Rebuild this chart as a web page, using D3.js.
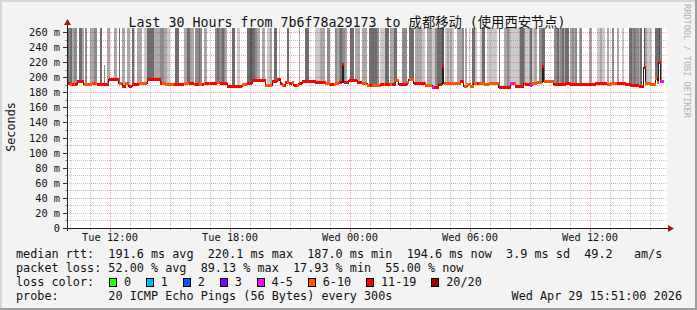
<!DOCTYPE html>
<html><head><meta charset="utf-8">
<script src="https://cdn.jsdelivr.net/npm/d3@7/dist/d3.min.js"></script>
<style>
html,body{margin:0;padding:0;background:#f3f3f3;overflow:hidden}
svg{display:block}
text{font-family:"DejaVu Sans Mono","Noto Sans CJK SC",monospace;white-space:pre}
</style></head><body>
<svg id="chart" width="697" height="310"></svg>
<script>
// ---- data: one value per 5-minute step, Tue 09:51 -> Wed 15:51 ----
const medianRtt=[
193,193,190.5,190.5,190.5,190.5,195.5,195.5,195.5,195.5,190.5,190.5,190.5,190.5,190.5,192,192,192,190.5,190.5,
190.5,190.5,190.5,190.5,190.5,197,197,197,197,197,197,193,193,189,189,193,193,189,189,190.5,
190.5,190.5,190.5,192,192,192,192,192,198,198,198,198,198,198,198,198,193,193,193,190.5,
190.5,190.5,190.5,190.5,190.5,190.5,190.5,190.5,190.5,190.5,193,193,193,192,192,192,190.5,190.5,190.5,190.5,
190.5,190.5,193,193,193,193,192,192,192,192,194,194,192,192,192,192,188.5,188.5,188.5,188.5,
188.5,188.5,188.5,188.5,188.5,191.5,191.5,191.5,193,193,193,196,196,196,196,196,196,196,196,190.3,
190.3,190.3,190.3,195.4,195.4,195.4,198,198,193,190.3,190.3,193.6,193.6,191.8,191.8,193.6,190.3,190.3,190.3,191.8,
191.8,194.5,194.5,194.5,194.5,194.5,194.5,194.5,194.5,193.6,193.6,193.6,193.6,193.6,193.6,191.8,191.8,191,191,191,
191,192.6,192.6,194,194,218,194,194,194,196,196,196,196,196,193.6,193.6,193.6,192.2,192.2,192.2,
190,190,190,190,190,190,190,190,190.5,190.5,190.5,190.5,190.5,190.5,190.5,190.5,190.5,196,196,190.5,
190.5,191,191,191,193.6,198,198,198,192.5,192.5,192.5,192.5,192.5,192.5,192.5,190,190,190,190,187.5,
187.5,187.5,187.5,191,191,215,193,193,193,193,193,193,193,193,193,193,195.4,195.4,188.7,188.7,
190.5,190.5,188.7,188.7,192,192,192,192,192,192,191,191,191,192.8,192.8,192.8,192.8,192.8,192.8,187.4,
187.4,187.4,187.4,187.4,187.4,187.4,192.8,192.8,192.8,188.7,188.7,188.7,188.7,188.7,192.8,191,191,191,190,192,
192,192,194,194,194,215,195.4,195.4,195.4,195.4,195.4,195.4,190.5,190.5,190.5,190.5,190.5,190.5,190.5,192.8,
192.8,192.8,190.5,190.5,190.5,190.5,190.5,190.5,190.5,190.5,191.5,191.5,190.5,190.5,190.5,190.5,190.5,192.8,192.8,192.8,
192.8,192.8,192.8,192.8,191.6,191.6,192.3,192.3,192.3,192.3,192.8,192.8,192.8,192.8,192.8,190.5,190.5,190.5,189.6,189.6,
189.6,189.6,189.6,188.7,188.7,188.7,214,192,192,192,191,191,191,198.5,194,220.1,194.6,194.6,null,null];

// lost pings out of 20 per step
const lossPings=[
13,13,8,13,8,13,14,14,14,14,8,8,8,8,8,8,12,8,12,12,
12,12,12,12,12,13,13,13,13,13,13,9,9,12,12,8,8,12,12,12,
12,12,12,8,8,8,8,8,13,13,13,13,13,13,13,13,12,8,8,9,
9,9,9,9,12,12,12,12,12,12,9,9,9,11,11,11,8,12,12,8,
8,12,9,12,12,9,12,12,12,12,9,9,12,12,12,12,13,13,13,13,
13,13,13,13,13,9,9,9,12,12,12,13,13,13,13,13,13,13,13,8,
8,8,8,13,13,13,13,13,12,8,12,12,8,12,12,8,12,12,9,12,
12,12,12,13,13,13,13,13,13,12,12,12,12,12,12,9,9,8,12,12,
9,8,8,12,12,14,12,12,12,13,13,13,13,13,12,12,12,9,9,9,
8,8,12,8,8,8,9,8,12,12,8,12,12,12,8,12,12,8,8,12,
12,12,12,12,8,8,8,8,12,12,12,12,12,12,12,8,8,8,8,5,
12,12,12,12,12,14,8,8,8,8,8,8,8,8,8,8,12,12,8,8,
8,8,8,8,8,8,12,8,8,8,8,8,8,8,8,8,8,8,8,13,
13,13,13,13,13,13,5,5,8,12,12,12,12,12,8,12,12,12,5,8,
8,8,8,8,8,11,8,8,8,8,8,8,12,12,12,12,12,12,12,12,
12,12,12,12,12,12,12,12,12,12,12,12,12,12,12,12,12,12,12,12,
12,12,12,12,8,8,8,8,8,8,12,12,12,12,12,12,12,12,12,12,
12,12,12,12,12,12,13,8,8,8,8,8,8,8,8,13,5,5,null,null];

// smoke density level per step (0 = no smoke)
const smokeShade=[
4,3,4,2,3,3,0,4,4,2,0,3,0,0,2,2,3,3,0,0,
4,0,3,0,2,2,0,0,2,2,0,4,0,2,2,0,2,2,0,4,
1,0,2,2,2,0,1,1,4,4,4,4,2,2,2,2,3,3,2,2,
1,1,0,0,0,4,4,0,0,0,2,2,4,4,2,2,0,3,3,4,
3,0,2,2,0,0,0,0,0,3,4,3,3,4,3,2,0,0,0,4,
4,0,1,1,0,0,0,0,4,4,5,4,4,3,2,2,0,2,2,0,
1,1,2,0,4,4,0,1,0,0,0,0,4,0,0,0,0,0,0,2,
0,0,0,4,4,0,0,0,0,1,1,1,2,2,2,0,3,3,0,0,
0,3,2,3,4,3,3,2,0,0,4,4,0,2,2,2,0,2,2,2,
0,4,4,4,4,4,3,0,1,1,1,4,4,0,2,2,4,4,0,0,
0,3,3,3,0,4,4,4,0,2,2,2,2,1,1,0,2,2,2,1,
1,3,4,4,4,5,0,1,2,1,2,1,0,0,2,2,2,3,0,2,
0,1,0,4,4,1,0,0,1,4,4,0,1,1,1,1,1,1,0,4,
0,0,2,2,3,2,1,1,1,1,1,2,4,4,3,1,1,2,4,1,
2,2,0,3,3,4,4,0,0,0,0,0,3,3,4,2,3,4,2,4,
4,0,2,3,2,3,0,2,3,0,0,0,0,2,2,0,0,0,1,1,
2,1,1,0,2,0,0,3,0,0,2,0,0,1,0,0,0,4,4,3,
4,3,3,2,4,0,5,2,1,1,1,0,0,4,4,5,3,0,0,0];

// highest ping (ms) per step; 300 = beyond the top of the graph
const smokeMax=[
300,300,300,300,300,300,300,300,300,300,300,300,300,300,300,300,300,300,300,300,
300,300,216,300,300,300,300,300,300,300,300,300,300,300,300,300,300,300,300,300,
300,300,300,300,300,300,300,300,300,300,300,300,300,300,300,300,300,300,300,300,
300,300,300,300,300,300,300,300,300,300,300,300,300,300,300,300,300,300,300,300,
300,300,300,300,300,300,300,300,300,300,300,300,300,300,300,300,300,300,300,300,
300,300,300,300,300,300,300,300,300,300,300,300,300,300,300,300,300,300,300,300,
300,300,300,300,300,300,300,300,300,300,300,300,300,300,300,300,300,300,300,300,
300,300,300,300,300,300,300,300,300,300,300,300,300,300,300,300,300,300,300,300,
300,300,300,300,300,300,300,300,300,300,300,300,300,300,300,300,300,300,300,300,
300,300,300,300,300,300,300,300,300,300,300,300,300,300,300,300,300,300,300,300,
300,300,300,300,300,300,300,300,300,300,300,300,300,300,300,300,300,300,300,300,
300,300,300,300,300,300,300,300,300,300,300,300,300,300,300,300,300,300,300,300,
300,300,300,300,300,300,300,300,300,300,300,300,300,300,300,300,300,300,300,300,
300,300,300,300,300,300,300,300,300,300,300,300,300,300,300,300,300,300,300,300,
300,300,300,300,300,300,300,300,300,300,300,300,300,300,300,300,300,300,300,300,
300,300,300,300,300,300,300,300,300,300,300,300,300,300,300,300,300,300,300,300,
300,300,300,300,300,300,300,300,300,300,300,300,300,300,300,300,300,300,300,300,
300,300,300,300,300,300,300,300,300,300,300,300,300,300,300,300,300,300,300,300];

const yTickValues=[0,20,40,60,80,100,120,140,160,180,200,220,240,260];
const yTickLabels=["0","20 m","40 m","60 m","80 m","100 m","120 m","140 m","160 m","180 m","200 m","220 m","240 m","260 m"];
const xTickLabels=["Tue 12:00","Tue 18:00","Wed 00:00","Wed 06:00","Wed 12:00"];
const lossLegendLabels=["0","1","2","3","4-5","6-10","11-19","20/20"];
const lossLegendMax=[0,1,2,3,5,10,19,20];
const rttStats=["191.6","220.1","187.0","194.6","3.9","49.2"];
const lossStats=["52.00","89.13","17.93","55.00"];
const titleText="Last 30 Hours from 7b6f78a29173 to 成都移动 (使用西安节点)";
const probeText="20 ICMP Echo Pings (56 Bytes) every 300s";
const stampText="Wed Apr 29 15:51:00 2026";

// ---- styles ----
const lossColors=["#26ff00","#00b8ff","#0059ff","#7e00ff","#ff00ff","#ff5500","#ff0000","#a00000"];
const shadeColors=[null,"#c9c9c9","#a9a9a9","#8c8c8c","#6e6e6e","#525252"];

const svg=d3.select("#chart");
const L=67,R=667,T=28,B=228;
const t0=new Date(2026,3,28,9,51), t1=new Date(2026,3,29,15,51);
const stepMs=300000;
const x=d3.scaleTime().domain([t0,t1]).range([L,R]);
const y=d3.scaleLinear().domain([0,265.3]).range([B,T]);
const steps=medianRtt.map((m,i)=>({i,m,loss:lossPings[i],shade:smokeShade[i],max:smokeMax[i],
  t:new Date(+t0+i*stepMs),t2:new Date(+t0+(i+1)*stepMs)}));

// background + frame
svg.append("rect").attr("width",697).attr("height",310).attr("fill","#f3f3f3");
svg.append("rect").attr("x",0).attr("y",0).attr("width",697).attr("height",2).attr("fill","#d6d6d6");
svg.append("rect").attr("x",0).attr("y",0).attr("width",2).attr("height",310).attr("fill","#d6d6d6");
svg.append("rect").attr("x",695).attr("y",0).attr("width",2).attr("height",310).attr("fill","#9e9e9e");
svg.append("rect").attr("x",0).attr("y",308).attr("width",697).attr("height",2).attr("fill","#9e9e9e");
svg.append("rect").attr("x",L).attr("y",T).attr("width",R-L).attr("height",B-T).attr("fill","#ffffff");

// smoke
svg.append("g").attr("shape-rendering","crispEdges").selectAll("rect")
  .data(steps.filter(d=>d.m!=null&&d.shade>0)).join("rect")
  .attr("x",d=>x(d.t)).attr("width",d=>x(d.t2)-x(d.t))
  .attr("y",d=>y(Math.min(d.max,265.3)))
  .attr("height",d=>y(d.m-2)-y(Math.min(d.max,265.3)))
  .attr("fill",d=>shadeColors[d.shade]);

// grid
const grid=svg.append("g").attr("shape-rendering","crispEdges").attr("stroke-dasharray","1,1");
const minorY=d3.range(10,265,20), majorY=yTickValues.filter(v=>v>0);
const hourTicks=x.ticks(d3.timeHour.every(1));
const sixTicks=x.ticks(d3.timeHour.every(6));
const isSix=t=>sixTicks.some(s=>+s===+t);
grid.selectAll("line.hm").data(minorY).join("line")
  .attr("x1",L).attr("x2",R).attr("y1",v=>Math.round(y(v))+0.5).attr("y2",v=>Math.round(y(v))+0.5)
  .attr("stroke","rgba(120,120,120,0.45)");
grid.selectAll("line.vm").data(hourTicks.filter(t=>!isSix(t))).join("line")
  .attr("y1",T).attr("y2",B).attr("x1",t=>Math.round(x(t))+0.5).attr("x2",t=>Math.round(x(t))+0.5)
  .attr("stroke","rgba(120,120,120,0.45)");
grid.selectAll("line.hM").data(majorY).join("line")
  .attr("x1",L).attr("x2",R).attr("y1",v=>Math.round(y(v))+0.5).attr("y2",v=>Math.round(y(v))+0.5)
  .attr("stroke","rgba(225,0,0,0.35)");
grid.selectAll("line.vM").data(sixTicks).join("line")
  .attr("y1",T).attr("y2",B).attr("x1",t=>Math.round(x(t))+0.5).attr("x2",t=>Math.round(x(t))+0.5)
  .attr("stroke","rgba(225,0,0,0.35)");

// median line (dark) with step shape
const linePts=[];
steps.forEach(d=>{ if(d.m!=null){ linePts.push([d.t,d.m]); } });
const last=steps.filter(d=>d.m!=null).slice(-1)[0];
linePts.push([last.t2,last.m]);
svg.append("path").attr("d",d3.line().x(p=>x(p[0])).y(p=>Math.round(y(p[1]))+0.5).curve(d3.curveStepAfter)(linePts))
  .attr("fill","none").attr("stroke","#202020").attr("stroke-width",1).attr("shape-rendering","crispEdges");

// loss-coloured median band
const lossIdx=v=>lossLegendMax.findIndex(m=>v<=m);
svg.append("g").attr("shape-rendering","crispEdges").selectAll("rect")
  .data(steps.filter(d=>d.m!=null)).join("rect")
  .attr("x",d=>x(d.t)).attr("width",d=>x(d.t2)-x(d.t)+0.3)
  .attr("y",d=>Math.round(y(d.m))-1).attr("height",3)
  .attr("fill",d=>lossColors[lossIdx(d.loss)]);

// axes
const ax=svg.append("g").attr("shape-rendering","crispEdges");
ax.selectAll("line.yt").data(d3.range(0,265,10)).join("line")
  .attr("x1",v=>v%20===0?63:65).attr("x2",L).attr("y1",v=>Math.round(y(v))+0.5).attr("y2",v=>Math.round(y(v))+0.5)
  .attr("stroke",v=>v%20===0?"#333":"#999");
ax.selectAll("line.xt").data(hourTicks).join("line")
  .attr("x1",t=>Math.round(x(t))+0.5).attr("x2",t=>Math.round(x(t))+0.5)
  .attr("y1",B).attr("y2",t=>isSix(t)?232:230)
  .attr("stroke","rgba(220,0,0,0.5)");
ax.append("line").attr("x1",L+0.5).attr("x2",L+0.5).attr("y1",B+3).attr("y2",24).attr("stroke","#202020");
ax.append("line").attr("x1",63).attr("x2",669).attr("y1",B+0.5).attr("y2",B+0.5).attr("stroke","#202020");
svg.append("path").attr("d",`M${L-3},${25}L${L+4},${25}L${L+0.5},${19}Z`).attr("fill","#9a1a1a");
svg.append("path").attr("d",`M${668},${B-3}L${668},${B+4}L${674},${B+0.5}Z`).attr("fill","#9a1a1a");

// tick labels
svg.selectAll("text.yl").data(yTickValues).join("text")
  .attr("x",60).attr("y",v=>Math.round(y(v))+0.5).attr("dy","0.36em").attr("text-anchor","end")
  .attr("font-size","10.3px").attr("fill","#111").text((v,i)=>yTickLabels[i]);
svg.selectAll("text.xl").data(sixTicks).join("text")
  .attr("x",t=>x(t)).attr("y",241).attr("text-anchor","middle")
  .attr("font-size","10.3px").attr("fill","#111").text((t,i)=>xTickLabels[i]);

// title & side texts
svg.append("text").attr("x",347).attr("y",27).attr("text-anchor","middle").attr("font-size","13.3px")
  .attr("fill","#111").text(titleText);
svg.append("text").attr("transform","translate(15,127) rotate(-90)").attr("text-anchor","middle")
  .attr("font-size","11.8px").attr("fill","#111").text("Seconds");
svg.append("text").attr("transform","translate(684,4) rotate(90)").attr("font-size","8.6px")
  .attr("fill","#b4b4b4").text("RRDTOOL / TOBI OETIKER");

// legend
const LX=16, adv=7.1, fs="11.8px";
const rows=[
 `median rtt:  ${rttStats[0]} ms avg  ${rttStats[1]} ms max  ${rttStats[2]} ms min  ${rttStats[3]} ms now  ${rttStats[4]} ms sd  ${rttStats[5]}   am/s`,
 `packet loss: ${lossStats[0]} % avg  ${lossStats[1]} % max  ${lossStats[2]} % min  ${lossStats[3]} % now`,
 `loss color:`,
 `probe:       ${probeText}`];
const rowY=[258,272,286,300];
svg.selectAll("text.lg").data(rows).join("text").attr("x",LX).attr("y",(d,i)=>rowY[i])
  .attr("font-size",fs).attr("fill","#111").text(d=>d);
let lx=LX+15.2*adv; const lpos=[];
lossLegendLabels.forEach(l=>{lpos.push(lx); lx+=(l.length+4.2)*adv;});
const lg=svg.append("g");
lg.selectAll("rect").data(lossLegendLabels).join("rect")
  .attr("x",(d,i)=>Math.round(lpos[i]-15)+0.5).attr("y",278.5).attr("width",7).attr("height",8)
  .attr("fill",(d,i)=>lossColors[i]).attr("stroke","#000").attr("shape-rendering","crispEdges");
lg.selectAll("text").data(lossLegendLabels).join("text")
  .attr("x",(d,i)=>lpos[i]).attr("y",rowY[2]).attr("font-size",fs).attr("fill","#111").text(d=>d);
svg.append("text").attr("x",682).attr("y",rowY[3]).attr("text-anchor","end").attr("font-size",fs)
  .attr("fill","#111").text(stampText);
</script>
</body></html>
